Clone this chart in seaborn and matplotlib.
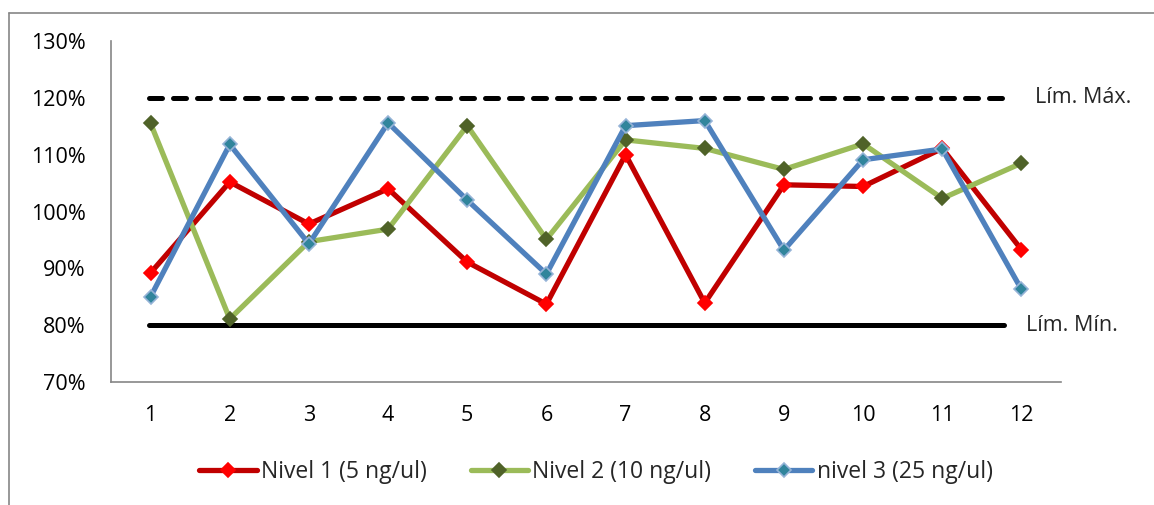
import matplotlib
matplotlib.use("Agg")
import matplotlib.pyplot as plt
from matplotlib.lines import Line2D
import seaborn as sns
import pandas as pd

categories = [1, 2, 3, 4, 5, 6, 7, 8, 9, 10, 11, 12]
nivel1 = [89.2, 105.2, 97.8, 104.0, 91.1, 83.7, 110.0, 83.9, 104.7, 104.4, 111.1, 93.3]
nivel2 = [115.5, 81.1, 94.7, 96.9, 115.1, 95.1, 112.6, 111.1, 107.4, 111.9, 102.3, 108.5]
nivel3 = [85.0, 111.8, 94.3, 115.6, 102.0, 89.0, 115.1, 116.0, 93.2, 109.1, 111.0, 86.3]
lim_max = 120
lim_min = 80
series_names = ["Nivel 1 (5 ng/ul)", "Nivel 2 (10 ng/ul)", "nivel 3 (25 ng/ul)"]
y_ticks = [70, 80, 90, 100, 110, 120, 130]

sns.set_theme(style="white")
plt.rcParams['font.family'] = ['Open Sans', 'DejaVu Sans']

FS = 15.5
LFS = 16.5

fig = plt.figure(figsize=(11.54, 5.05), dpi=100)
ax = fig.add_axes([111/1154, 1-382/505, 950/1154, 341/505])

styles = [
    dict(color="#C00000", mfc="#FF0000", mec="#FF0000"),
    dict(color="#9BBB59", mfc="#4F6228", mec="#4F6228"),
    dict(color="#4F81BD", mfc="#31859C", mec="#95B3D7"),
]

# limit lines
x_lim_line = [0.98, 11.78]
sns.lineplot(x=x_lim_line, y=[lim_max, lim_max], ax=ax, color="black", lw=3.6,
             linestyle=(0, (2.6, 2.2)), dash_capstyle="round", zorder=2)
sns.lineplot(x=x_lim_line, y=[lim_min, lim_min], ax=ax, color="black", lw=3.6,
             solid_capstyle="round", zorder=2)

handles = []
for vals, name, st in zip([nivel1, nivel2, nivel3], series_names, styles):
    df = pd.DataFrame({"x": categories, "y": vals})
    sns.lineplot(data=df, x="x", y="y", ax=ax, color=st["color"], lw=3.8,
                 marker="D", markersize=7, markerfacecolor=st["mfc"],
                 markeredgecolor=st["mec"], markeredgewidth=1.2, zorder=3)
    handles.append(Line2D([0], [0], color=st["color"], lw=3.8, marker="D", markersize=7,
                          markerfacecolor=st["mfc"], markeredgecolor=st["mec"],
                          markeredgewidth=1.2, label=name))

ax.set_xlim(0.5, 12.5)
ax.set_ylim(70, 130)
ax.set_xticks(categories)
ax.set_xticklabels([str(c) for c in categories])
ax.set_yticks(y_ticks)
ax.set_yticklabels([f"{t}%" for t in y_ticks])
ax.tick_params(axis="both", length=0, labelsize=FS, colors="black")
ax.tick_params(axis="y", pad=18)
ax.tick_params(axis="x", pad=16.5)
ax.set_xlabel("")
ax.set_ylabel("")
for s in ["top", "right"]:
    ax.spines[s].set_visible(False)
for s in ["left", "bottom"]:
    ax.spines[s].set_color("#868686")
    ax.spines[s].set_linewidth(1.2)

ax.text(12.17, lim_max, "Lím. Máx.", fontsize=FS, va="center", ha="left", clip_on=False)
ax.text(12.06, lim_min, "Lím. Mín.", fontsize=FS, va="center", ha="left", clip_on=False)

leg = fig.legend(handles=handles, loc="center", bbox_to_anchor=(596/1154, 1-472/505),
                 ncol=3, frameon=False, fontsize=LFS, handlelength=2.5,
                 handletextpad=0.2, columnspacing=1.9)

# outer chart frame (partially visible)
fig.add_artist(Line2D([9/1154, 1.0], [1-13/505, 1-13/505], color="#868686", lw=1.2,
                      transform=fig.transFigure))
fig.add_artist(Line2D([9/1154, 9/1154], [1-13/505, 0.0], color="#868686", lw=1.2,
                      transform=fig.transFigure))

fig.savefig("out.png", dpi=100)
